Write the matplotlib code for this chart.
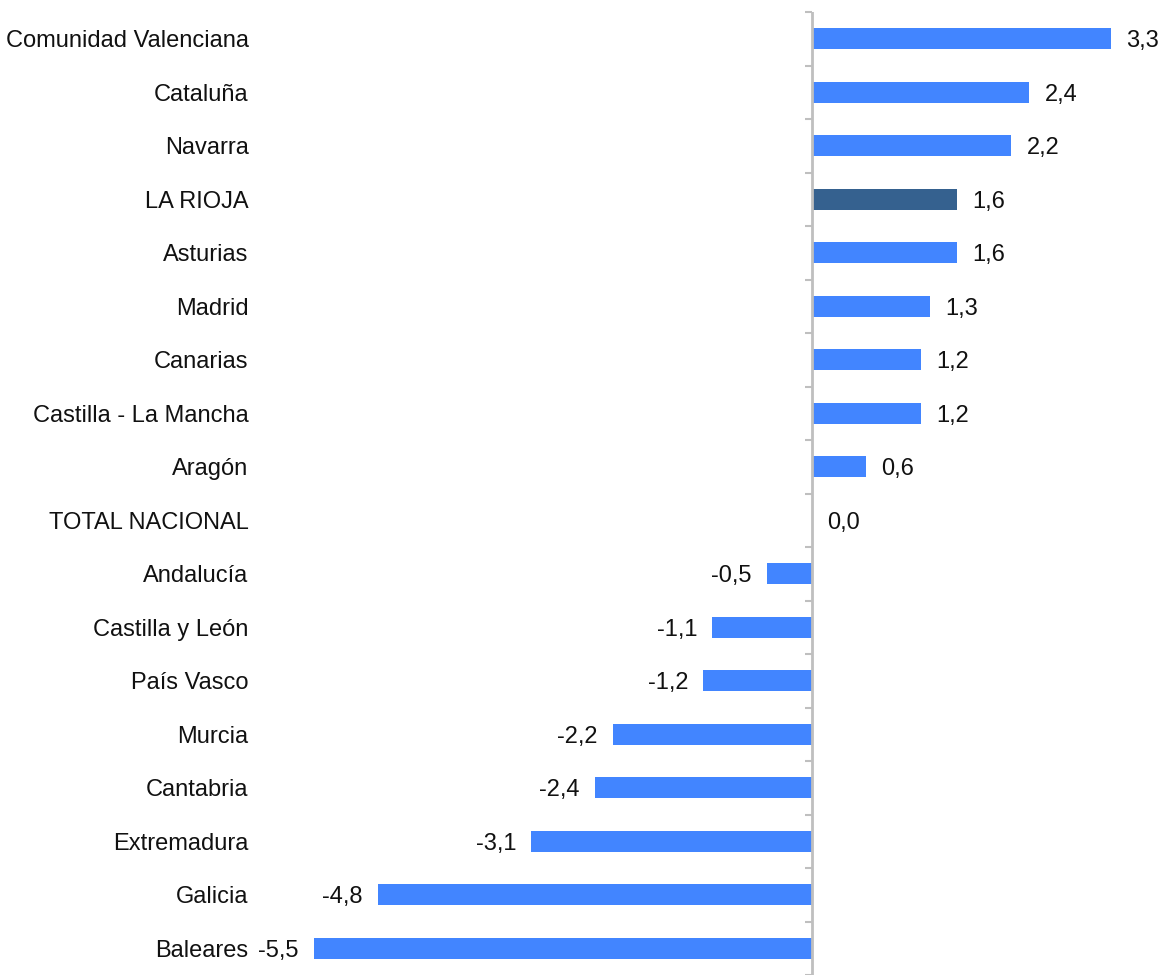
import matplotlib
matplotlib.use("Agg")
import matplotlib.pyplot as plt

categories = ["Comunidad Valenciana", "Cataluña", "Navarra", "LA RIOJA", "Asturias",
              "Madrid", "Canarias", "Castilla - La Mancha", "Aragón", "TOTAL NACIONAL",
              "Andalucía", "Castilla y León", "País Vasco", "Murcia", "Cantabria",
              "Extremadura", "Galicia", "Baleares"]
values = [3.3, 2.4, 2.2, 1.6, 1.6, 1.3, 1.2, 1.2, 0.6, 0.0,
          -0.5, -1.1, -1.2, -2.2, -2.4, -3.1, -4.8, -5.5]
value_labels = ["3,3", "2,4", "2,2", "1,6", "1,6", "1,3", "1,2", "1,2", "0,6", "0,0",
                "-0,5", "-1,1", "-1,2", "-2,2", "-2,4", "-3,1", "-4,8", "-5,5"]
highlight = "LA RIOJA"

plt.rcParams['font.family'] = ['Liberation Sans', 'DejaVu Sans']

W, H = 1164, 975
fig = plt.figure(figsize=(W / 100, H / 100), dpi=100)
ax_left, ax_right = 257, 1164
ax_top, ax_bottom = 12, 975
ax = fig.add_axes([ax_left / W, (H - ax_bottom) / H, (ax_right - ax_left) / W, (ax_bottom - ax_top) / H])

scale = 90.5  # px per unit
zero_px = 812
ax.set_xlim(-(zero_px - ax_left) / scale, (ax_right - zero_px) / scale)
n = len(categories)
ax.set_ylim(n - 0.5, -0.5)

colors = ["#35618F" if c == highlight else "#4285FF" for c in categories]
ypos = list(range(n))
ax.barh(ypos, values, height=0.39, color=colors, zorder=2)

for y, v, lab in zip(ypos, values, value_labels):
    if v >= 0:
        ax.annotate(lab, (v, y), xytext=(11, 0), textcoords="offset points",
                    ha="left", va="center_baseline", fontsize=17, color="#111111")
    else:
        ax.annotate(lab, (v, y), xytext=(-11, 0), textcoords="offset points",
                    ha="right", va="center_baseline", fontsize=17, color="#111111")

# axis line at zero with tick marks at category boundaries
ax.axvline(0, color="#BFBFBF", lw=2, zorder=3)
tick_len = 7 / scale
for b in range(n + 1):
    ax.plot([-tick_len, 0], [b - 0.5, b - 0.5], color="#BFBFBF", lw=1.5, zorder=3,
            solid_capstyle="butt", clip_on=False)

ax.set_yticks(ypos)
ax.set_yticklabels(categories, fontsize=17, color="#111111", va="center_baseline")
ax.tick_params(axis="y", length=0, pad=6)
ax.set_xticks([])
for s in ax.spines.values():
    s.set_visible(False)

fig.savefig("out.png", dpi=100, facecolor="white")
